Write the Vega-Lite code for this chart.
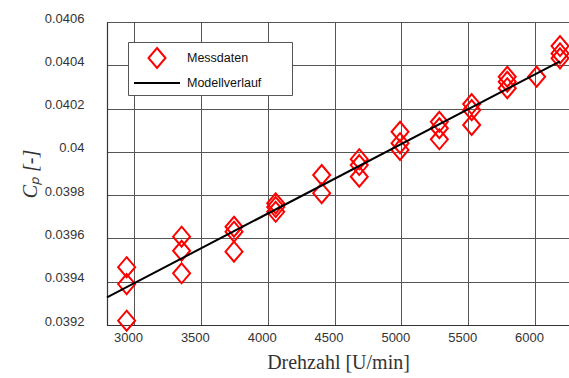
{
  "$schema": "https://vega.github.io/schema/vega-lite/v6.json",
  "width": 462,
  "height": 303,
  "autosize": {"type": "none"},
  "padding": {"left": 107, "top": 22, "right": 0, "bottom": 53},
  "background": "white",
  "config": {
    "view": {"stroke": "#444", "strokeWidth": 1},
    "font": "Liberation Sans",
    "axis": {
      "labelFont": "Liberation Sans",
      "labelFontSize": 13,
      "labelColor": "#333",
      "grid": true,
      "gridColor": "#555",
      "gridOpacity": 1,
      "gridWidth": 1,
      "ticks": false,
      "domainColor": "#333",
      "domainWidth": 1.2,
      "titleFont": "Liberation Serif",
      "titleFontSize": 20,
      "titleFontWeight": "normal",
      "titleColor": "#333"
    },
    "legend": {
      "orient": "none",
      "legendX": 21,
      "legendY": 20,
      "padding": 5,
      "fillColor": "white",
      "strokeColor": "#555",
      "cornerRadius": 0,
      "symbolSize": 400,
      "symbolStrokeWidth": 2,
      "symbolOffset": 13,
      "labelOffset": 19,
      "rowPadding": -4,
      "labelFont": "Liberation Sans",
      "labelFontSize": 12.5,
      "labelColor": "#111",
      "titleOrient": "right",
      "titlePadding": 25,
      "titleFontSize": 2,
      "titleColor": "white"
    }
  },
  "datasets": {
    "messdaten": [
      {"drehzahl": 2990, "cp": 0.039467, "serie": "Messdaten"},
      {"drehzahl": 2990, "cp": 0.039389, "serie": "Messdaten"},
      {"drehzahl": 2990, "cp": 0.039220, "serie": "Messdaten"},
      {"drehzahl": 3401, "cp": 0.039608, "serie": "Messdaten"},
      {"drehzahl": 3401, "cp": 0.039543, "serie": "Messdaten"},
      {"drehzahl": 3401, "cp": 0.039439, "serie": "Messdaten"},
      {"drehzahl": 3793, "cp": 0.039654, "serie": "Messdaten"},
      {"drehzahl": 3793, "cp": 0.039631, "serie": "Messdaten"},
      {"drehzahl": 3793, "cp": 0.039539, "serie": "Messdaten"},
      {"drehzahl": 4105, "cp": 0.039762, "serie": "Messdaten"},
      {"drehzahl": 4105, "cp": 0.039745, "serie": "Messdaten"},
      {"drehzahl": 4105, "cp": 0.039723, "serie": "Messdaten"},
      {"drehzahl": 4449, "cp": 0.039893, "serie": "Messdaten"},
      {"drehzahl": 4449, "cp": 0.039809, "serie": "Messdaten"},
      {"drehzahl": 4730, "cp": 0.039966, "serie": "Messdaten"},
      {"drehzahl": 4730, "cp": 0.039939, "serie": "Messdaten"},
      {"drehzahl": 4730, "cp": 0.039885, "serie": "Messdaten"},
      {"drehzahl": 5035, "cp": 0.040093, "serie": "Messdaten"},
      {"drehzahl": 5035, "cp": 0.040040, "serie": "Messdaten"},
      {"drehzahl": 5035, "cp": 0.040009, "serie": "Messdaten"},
      {"drehzahl": 5329, "cp": 0.040139, "serie": "Messdaten"},
      {"drehzahl": 5329, "cp": 0.040109, "serie": "Messdaten"},
      {"drehzahl": 5329, "cp": 0.040058, "serie": "Messdaten"},
      {"drehzahl": 5571, "cp": 0.040221, "serie": "Messdaten"},
      {"drehzahl": 5571, "cp": 0.040193, "serie": "Messdaten"},
      {"drehzahl": 5571, "cp": 0.040124, "serie": "Messdaten"},
      {"drehzahl": 5837, "cp": 0.040347, "serie": "Messdaten"},
      {"drehzahl": 5837, "cp": 0.040324, "serie": "Messdaten"},
      {"drehzahl": 5837, "cp": 0.040294, "serie": "Messdaten"},
      {"drehzahl": 6057, "cp": 0.040347, "serie": "Messdaten"},
      {"drehzahl": 6232, "cp": 0.040489, "serie": "Messdaten"},
      {"drehzahl": 6232, "cp": 0.040455, "serie": "Messdaten"},
      {"drehzahl": 6232, "cp": 0.040432, "serie": "Messdaten"}
    ],
    "modell": [
      {"drehzahl": 2843, "cp": 0.039328, "serie": "Modellverlauf"},
      {"drehzahl": 6232, "cp": 0.040418, "serie": "Modellverlauf"}
    ]
  },
  "layer": [
    {
      "data": {"name": "messdaten"},
      "mark": {"type": "point", "filled": false, "strokeWidth": 2, "size": 400, "opacity": 1, "clip": false},
      "encoding": {
        "x": {
          "field": "drehzahl", "type": "quantitative",
          "scale": {"domain": [2843, 6299], "nice": false, "zero": false},
          "axis": {
            "values": [3000, 3500, 4000, 4500, 5000, 5500, 6000],
            "format": "d",
            "tickOffset": 6,
            "labelOffset": -6,
            "labelPadding": 6,
            "title": "Drehzahl [U/min]",
            "titlePadding": 8
          }
        },
        "y": {
          "field": "cp", "type": "quantitative",
          "scale": {"domain": [0.0392, 0.0406], "nice": false, "zero": false},
          "axis": {
            "values": [0.0392, 0.0394, 0.0396, 0.0398, 0.04, 0.0402, 0.0404, 0.0406],
            "format": "~g",
            "labelOffset": -4,
            "labelPadding": 23,
            "title": "Cₚ [-]",
            "titleFontStyle": "italic",
            "titlePadding": 4
          }
        },
        "stroke": {
          "field": "serie", "type": "nominal",
          "scale": {"domain": ["Messdaten", "Modellverlauf"], "range": ["#ff0000", "#000000"]},
          "legend": {"title": "."}
        },
        "shape": {
          "field": "serie", "type": "nominal",
          "scale": {"domain": ["Messdaten", "Modellverlauf"], "range": ["M0,-1L0.85,0L0,1L-0.85,0Z", "M-2.3,0L2.3,0"]},
          "legend": {"title": "."}
        }
      }
    },
    {
      "data": {"name": "modell"},
      "mark": {"type": "line", "strokeWidth": 2},
      "encoding": {
        "x": {"field": "drehzahl", "type": "quantitative"},
        "y": {"field": "cp", "type": "quantitative"},
        "stroke": {"field": "serie", "type": "nominal"}
      }
    }
  ]
}
